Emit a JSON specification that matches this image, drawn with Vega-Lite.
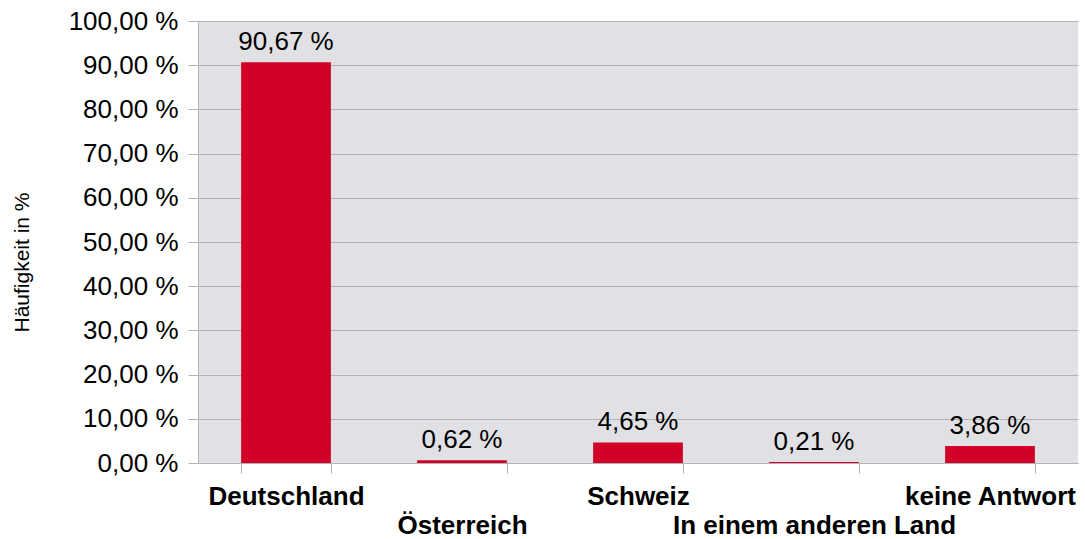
{
  "$schema": "https://vega.github.io/schema/vega-lite/v6.json",
  "width": 880,
  "height": 442,
  "autosize": {"type": "none"},
  "padding": {"left": 198, "top": 21, "right": 7, "bottom": 76},
  "background": "white",
  "config": {
    "view": {"fill": "#e0e0e5", "stroke": null},
    "font": "Liberation Sans"
  },
  "data": {
    "values": [
      {"land": "Deutschland", "wert": 90.67},
      {"land": "Österreich", "wert": 0.62},
      {"land": "Schweiz", "wert": 4.65},
      {"land": "In einem anderen Land", "wert": 0.21},
      {"land": "keine Antwort", "wert": 3.86}
    ]
  },
  "transform": [
    {"calculate": "replace(format(datum.wert, '.2f'), '.', ',') + ' %'", "as": "beschriftung"}
  ],
  "encoding": {
    "x": {
      "field": "land",
      "type": "nominal",
      "sort": null,
      "scale": {"paddingInner": 0.49, "paddingOuter": 0.245},
      "axis": {
        "title": null,
        "labelAngle": 0,
        "labelFont": "Liberation Sans",
        "labelFontSize": 26,
        "labelFontWeight": "bold",
        "labelColor": "#000000",
        "labelBaseline": "top",
        "labelPadding": {"expr": "indexof(['Österreich','In einem anderen Land'], datum.value) >= 0 ? 39 : 10"},
        "labelOverlap": false,
        "labelLimit": 400,
        "tickBand": "extent",
        "tickSize": 10,
        "tickColor": "#b3b3b3",
        "tickWidth": 1,
        "domainColor": "#b3b3b3",
        "grid": false
      }
    },
    "y": {
      "field": "wert",
      "type": "quantitative",
      "scale": {"domain": [0, 100]},
      "axis": {
        "title": "Häufigkeit in %",
        "titleFont": "Liberation Sans",
        "titleFontSize": 21,
        "titleFontWeight": "normal",
        "titleColor": "#000000",
        "titleX": -176,
        "titleY": 241,
        "titleAlign": "center",
        "titleBaseline": "middle",
        "titleAngle": -90,
        "values": [0, 10, 20, 30, 40, 50, 60, 70, 80, 90, 100],
        "labelExpr": "replace(format(datum.value, '.2f'), '.', ',') + ' %'",
        "labelFont": "Liberation Sans",
        "labelFontSize": 26,
        "labelColor": "#000000",
        "labelPadding": 10,
        "tickSize": 10,
        "tickColor": "#b3b3b3",
        "domainColor": "#b3b3b3",
        "gridColor": "#b3b3b3",
        "gridWidth": 1
      }
    }
  },
  "layer": [
    {"mark": {"type": "bar", "color": "#d20029"}},
    {
      "mark": {"type": "text", "baseline": "bottom", "dy": -7, "fontSize": 26, "font": "Liberation Sans", "color": "#000000"},
      "encoding": {
        "text": {"field": "beschriftung", "type": "nominal"}
      }
    }
  ]
}
